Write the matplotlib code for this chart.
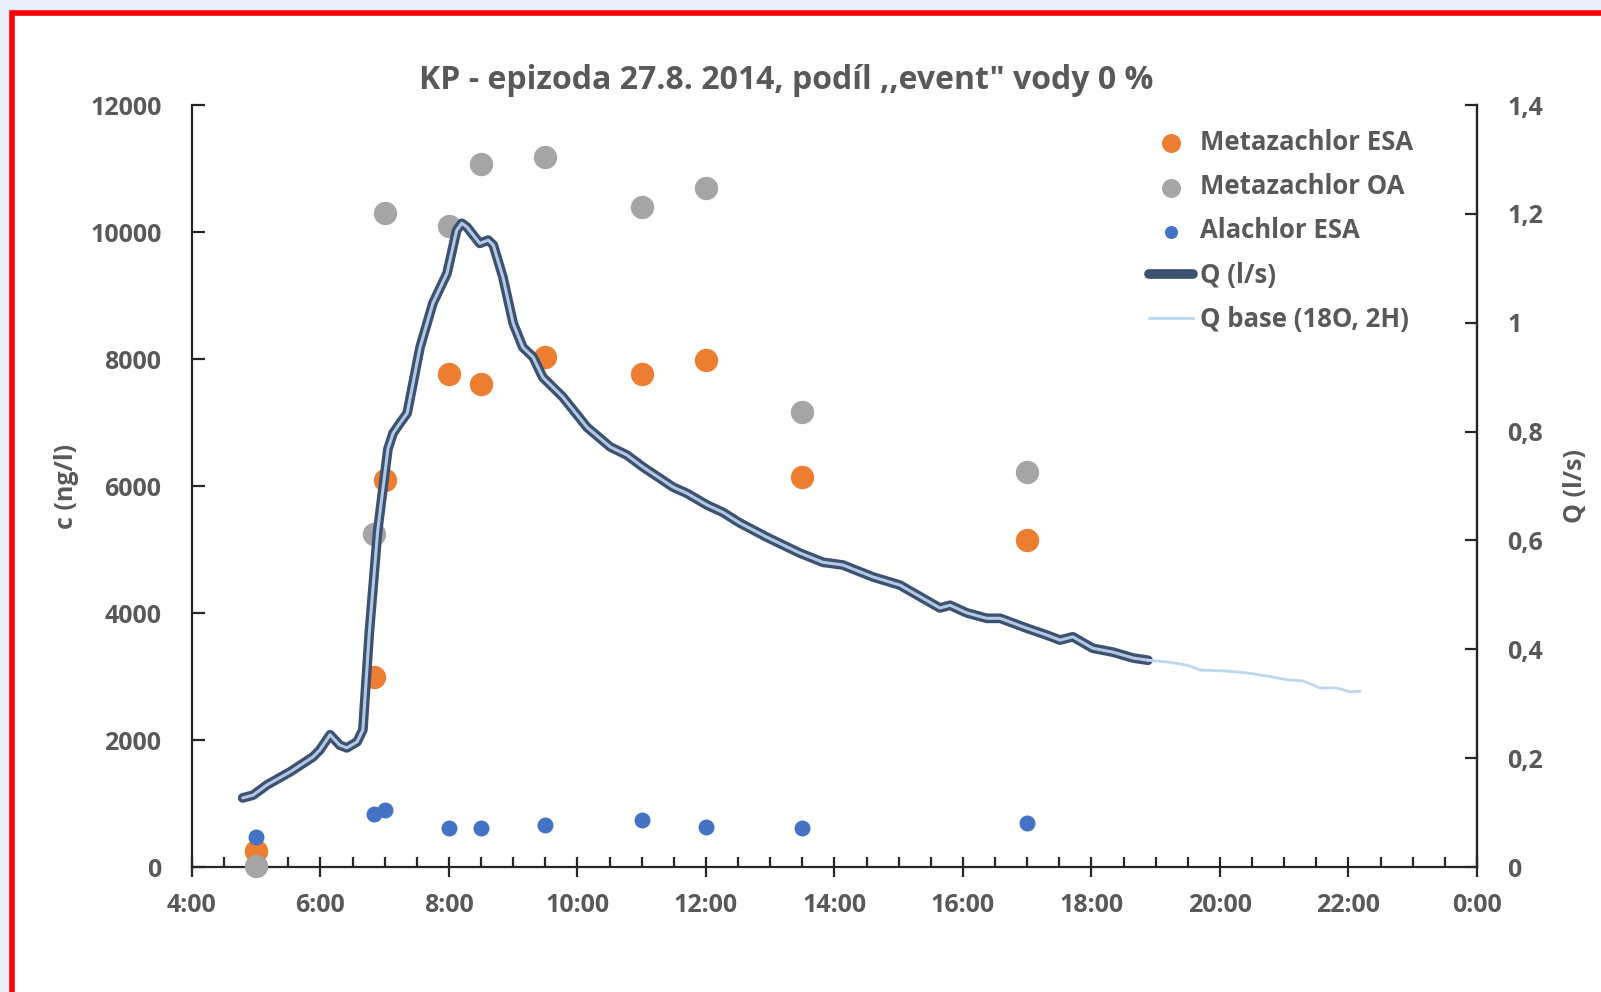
import numpy as np
import matplotlib.pyplot as plt
from matplotlib.patches import Rectangle
from matplotlib.ticker import FuncFormatter, MultipleLocator

plt.rcParams['font.family'] = ['Open Sans', 'DejaVu Sans']
plt.rcParams['font.weight'] = 'bold'

# sampling times (hours)
t_samp = [5.0, 6.83, 7.0, 8.0, 8.5, 9.5, 11.0, 12.0, 13.5, 17.0]
meta_esa = [260, 3000, 6100, 7770, 7610, 8040, 7770, 7990, 6140, 5150]
meta_oa = [20, 5250, 10300, 10100, 11080, 11190, 10390, 10700, 7160, 6220]
ala_esa = [470, 840, 900, 610, 610, 660, 740, 630, 610, 690]

# discharge Q (l/s)
t_q = [4.79, 4.95, 5.17, 5.53, 5.88, 5.99, 6.15, 6.30, 6.41, 6.57, 6.66, 6.76, 6.89,
       7.05, 7.13, 7.24, 7.35, 7.55, 7.75, 7.97, 8.12, 8.20, 8.28, 8.48, 8.61, 8.69,
       8.84, 9.00, 9.15, 9.31, 9.46, 9.77, 10.15, 10.51, 10.77, 11.02, 11.49, 11.70,
       12.02, 12.26, 12.53, 12.95, 13.46, 13.82, 14.13, 14.60, 15.02, 15.64, 15.80,
       16.06, 16.37, 16.58, 16.99, 17.31, 17.51, 17.71, 18.02, 18.33, 18.65, 18.88]
q = [0.127, 0.132, 0.151, 0.175, 0.202, 0.215, 0.243, 0.224, 0.219, 0.230, 0.252, 0.43, 0.617,
     0.768, 0.797, 0.816, 0.834, 0.955, 1.036, 1.091, 1.170, 1.183, 1.176, 1.146, 1.152, 1.143,
     1.084, 0.999, 0.955, 0.937, 0.900, 0.864, 0.808, 0.772, 0.757, 0.735, 0.698, 0.687,
     0.665, 0.652, 0.632, 0.606, 0.577, 0.560, 0.555, 0.533, 0.518, 0.476, 0.481,
     0.467, 0.457, 0.457, 0.439, 0.426, 0.417, 0.423, 0.402, 0.395, 0.384, 0.380]

# base flow (18O, 2H)
t_base = [18.88, 19.17, 19.49, 19.69, 20.11, 20.47, 20.83, 21.04, 21.29, 21.56, 21.82, 22.02, 22.18]
q_base = [0.380, 0.377, 0.371, 0.362, 0.360, 0.356, 0.349, 0.344, 0.342, 0.329, 0.329, 0.322, 0.323]

xticks = [4, 6, 8, 10, 12, 14, 16, 18, 20, 22, 24]
xlabels = ['4:00', '6:00', '8:00', '10:00', '12:00', '14:00', '16:00', '18:00', '20:00', '22:00', '0:00']

grey = '#595959'
fig = plt.figure(figsize=(16.01, 9.92), dpi=100)
fig.patch.set_facecolor('#e9eef9')
fig.patches.append(Rectangle((0.0075, -0.01), 1.0, 0.997, transform=fig.transFigure,
                             facecolor='white', edgecolor='#ff0000', linewidth=4, zorder=-5))

ax = fig.add_axes([0.1199, 0.126, 0.8026, 0.768])
ax.set_facecolor('none')
ax.scatter(t_samp, meta_esa, s=250, color='#ed7d31', label='Metazachlor ESA', zorder=2, clip_on=False)
ax.scatter(t_samp, meta_oa, s=250, color='#a5a5a5', label='Metazachlor OA', zorder=3, clip_on=False)
ax.scatter(t_samp, ala_esa, s=110, color='#4472c4', label='Alachlor ESA', zorder=4, clip_on=False)
ax.set_xlim(4, 24)
ax.set_ylim(0, 12000)
ax.set_yticks(range(0, 12001, 2000))
ax.set_xticks(xticks)
ax.set_xticklabels(xlabels)
ax.xaxis.set_minor_locator(MultipleLocator(0.5))
ax.set_ylabel('c (ng/l)', fontsize=18, fontweight='bold', color=grey, labelpad=8)

ax2 = ax.twinx()
ax2.plot(t_q, q, color='#3d5270', lw=7, solid_capstyle='round', solid_joinstyle='round',
         label='Q (l/s)')
ax2.plot(t_q, q, color='#b3c8e2', lw=2.2, solid_capstyle='round', solid_joinstyle='round')
ax2.plot(t_base, q_base, color='#bdd7ee', lw=2, label='Q base (18O, 2H)')
ax2.set_ylim(0, 1.4)
ax2.set_yticks(np.arange(0, 1.41, 0.2))
ax2.yaxis.set_major_formatter(FuncFormatter(lambda v, p: ('%g' % round(v, 1)).replace('.', ',')))
ax2.set_ylabel('Q (l/s)', fontsize=18, fontweight='bold', color=grey, labelpad=14)

for a in (ax, ax2):
    a.spines['top'].set_visible(False)
    for s in a.spines.values():
        s.set_linewidth(1.6)
        s.set_color('#262626')
    a.tick_params(labelsize=18, colors=grey, width=1.6)
    a.tick_params(axis='both', which='major', color='#262626')
ax.tick_params(axis='y', direction='in', length=9, pad=22)
ax.tick_params(axis='x', which='major', direction='inout', length=14, pad=12)
ax.tick_params(axis='x', which='minor', direction='in', length=7, width=1.6, color='#262626')
ax2.tick_params(axis='y', direction='in', length=9, pad=22)
ax2.spines['left'].set_visible(False)
ax2.spines['bottom'].set_visible(False)

fig.text(0.491, 0.919, 'KP - epizoda 27.8. 2014, podíl ,,event" vody 0 %', ha='center', va='center',
         fontsize=23, color=grey)

h1, l1 = ax.get_legend_handles_labels()
h2, l2 = ax2.get_legend_handles_labels()
leg = ax2.legend(h1 + h2, l1 + l2, loc='upper right', bbox_to_anchor=(0.968, 0.999), frameon=False,
                 fontsize=18.5, labelspacing=0.67, handlelength=1.7, handletextpad=0.25,
                 markerscale=0.8)
for t in leg.get_texts():
    t.set_color(grey)

fig.savefig('out.png', dpi=100, facecolor=fig.get_facecolor())
